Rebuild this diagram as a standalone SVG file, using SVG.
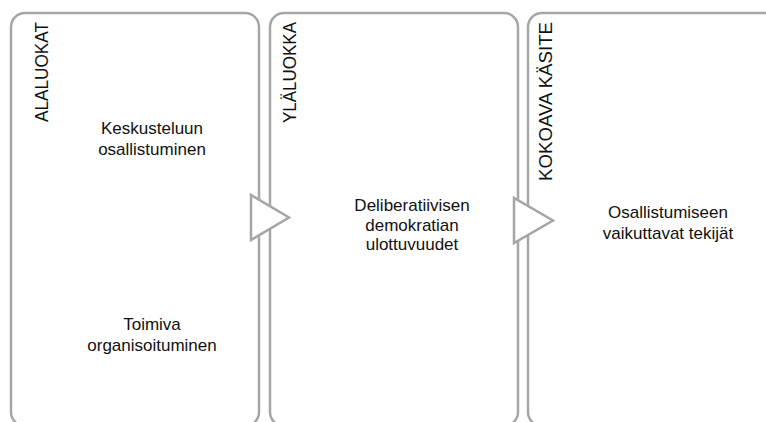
<svg xmlns="http://www.w3.org/2000/svg" width="766" height="422" viewBox="0 0 766 422">
<style>
.box{fill:#ffffff;stroke:#a6a6a6;stroke-width:2.5}
.tri{fill:#ffffff;stroke:#a6a6a6;stroke-width:2.5;stroke-linejoin:miter}
.lbl{font-family:"Liberation Sans",Arial,sans-serif;font-size:18px;fill:#111111;text-anchor:end}
.txt{font-family:"Liberation Sans",Arial,sans-serif;font-size:17px;fill:#111111;text-anchor:middle}
</style>
<rect width="766" height="422" fill="#ffffff"/>
<g id="box-alaluokat">
<rect class="box" x="11" y="13" width="248" height="413" rx="14" ry="14"/>
<text class="lbl" transform="translate(48,22) rotate(-90)" textLength="100" lengthAdjust="spacingAndGlyphs">ALALUOKAT</text>
<text class="txt" x="152" y="134">Keskusteluun</text>
<text class="txt" x="152" y="155">osallistuminen</text>
<text class="txt" x="152" y="330">Toimiva</text>
<text class="txt" x="152" y="351">organisoituminen</text>
</g>
<g id="box-ylaluokka">
<rect class="box" x="270" y="13" width="248" height="413" rx="14" ry="14"/>
<text class="lbl" transform="translate(296,22) rotate(-90)" textLength="101" lengthAdjust="spacingAndGlyphs">YLÄLUOKKA</text>
<text class="txt" x="412" y="211">Deliberatiivisen</text>
<text class="txt" x="412" y="231">demokratian</text>
<text class="txt" x="412" y="250">ulottuvuudet</text>
</g>
<g id="box-kokoava">
<rect class="box" x="528" y="13" width="260" height="413" rx="14" ry="14"/>
<text class="lbl" transform="translate(552,22) rotate(-90)" textLength="159" lengthAdjust="spacingAndGlyphs">KOKOAVA KÄSITE</text>
<text class="txt" x="668" y="218">Osallistumiseen</text>
<text class="txt" x="668" y="239">vaikuttavat tekijät</text>
</g>
<g id="connectors">
<polygon class="tri" points="251,195 251,240 289,217.5"/>
<polygon class="tri" points="514,198 514,243 553,220.5"/>
</g>
</svg>
